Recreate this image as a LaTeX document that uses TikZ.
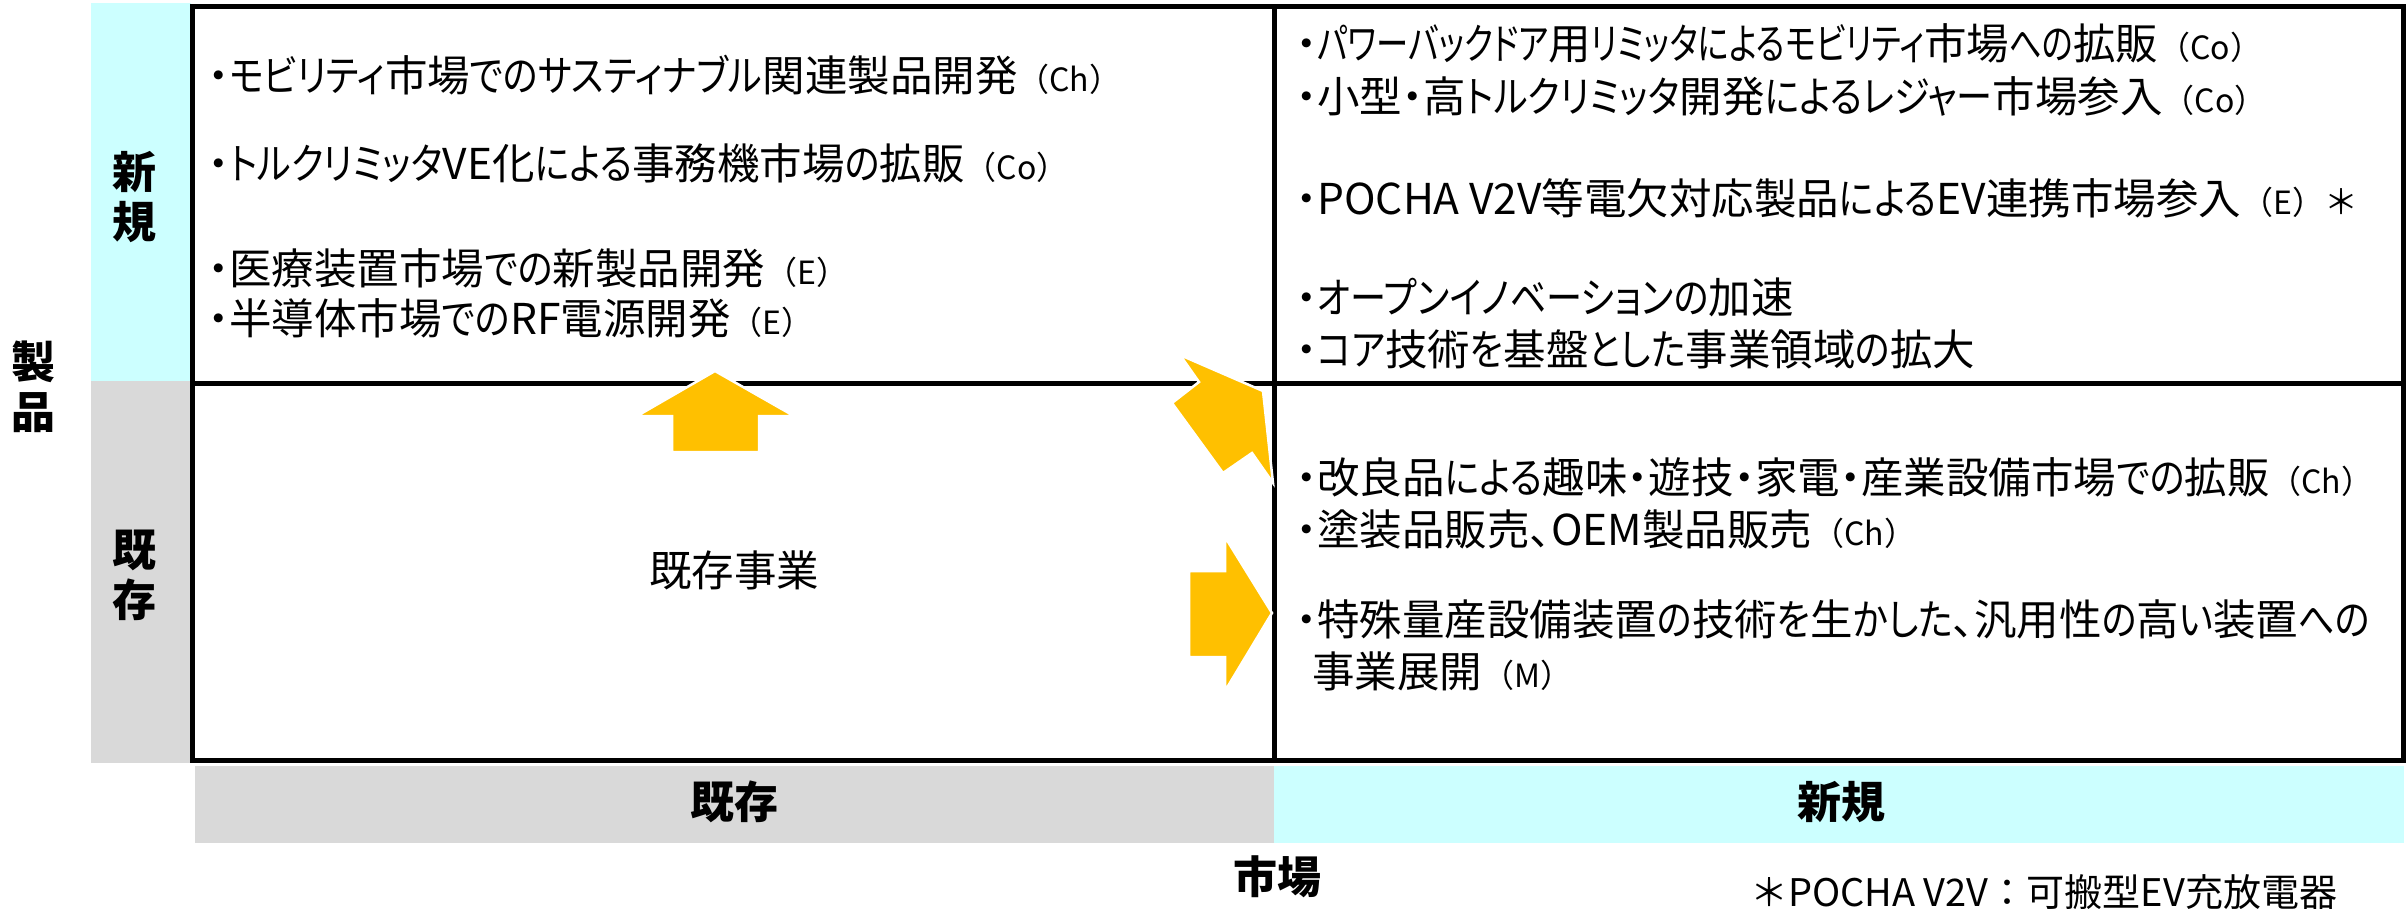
\documentclass[tikz,border=0pt]{standalone}
\usepackage{fontspec}
\newfontfamily\jp[RawFeature=+palt]{Noto Sans CJK JP}
\newfontfamily\jpk[RawFeature=+palt, FakeStretch=0.85]{Noto Sans CJK JP}
\newfontfamily\jpkk[RawFeature=+palt, FakeStretch=0.76]{Noto Sans CJK JP}
\newfontfamily\jpn{Noto Sans CJK JP}
\definecolor{cyanband}{HTML}{CCFFFF}
\definecolor{grayband}{HTML}{D9D9D9}
\definecolor{arrowc}{HTML}{FFC000}
\newcommand{\smp}[1]{{\jpn\fontsize{32}{34}\selectfont （#1）}}
\newcommand{\K}[1]{{\jpk #1}}
\newcommand{\KK}[1]{{\jpkk #1}}
\tikzset{
  txt/.style={anchor=west, inner sep=0pt, font=\jp\fontsize{42.5}{48}\selectfont},
  lbl/.style={inner sep=0pt, align=center, font=\jp\bfseries\fontsize{44}{50}\selectfont},
  blockarrow/.style={fill=arrowc, draw=white, line width=2.5pt, line join=miter},
  gridline/.style={line width=5pt}
}
\begin{document}
\begin{tikzpicture}[x=1pt,y=-1pt]
\useasboundingbox (0,0) rectangle (2407,908);
% side bands
\fill[cyanband] (91,3) rectangle (191,381);
\fill[grayband] (91,381) rectangle (191,763);
% bottom bands
\fill[grayband] (195,766) rectangle (1274,843);
\fill[cyanband] (1274,766) rectangle (2404,843);
% grid
\draw[gridline] (192,6) rectangle (2403,760);
\draw[gridline] (1274,6) -- (1274,760);
\draw[gridline] (192,383) -- (2403,383);
% arrows
\draw[blockarrow] (715,371) -- (794,416) -- (759,416) -- (759,452) -- (672,452) -- (672,416) -- (637,416) -- cycle;
\draw[blockarrow] (1272,613) -- (1225,691) -- (1225,657) -- (1189,657) -- (1189,571) -- (1225,571) -- (1225,537) -- cycle;
\draw[blockarrow] (1263,391) -- (1273,483) -- (1252,453) -- (1223,473) -- (1172,403) -- (1199,382) -- (1180,355) -- cycle;
% labels
\node[lbl] (prod) at (33,387) {製\\品};
\node[lbl] (pnew) at (134,197) {新\\規};
\node[lbl] (pold) at (134,575) {既\\存};
\node[lbl] (mold) at (734,802) {既存};
\node[lbl] (mnew) at (1841,802) {新規};
\node[lbl] (mkt) at (1277,877) {市場};
% top-left
\node[txt] (tl1) at (208,75) {・\K{モビリティ}市場\K{でのサスティナブル}関連製品開発\smp{Ch}};
\node[txt] (tl2) at (208,163) {・\K{トルクリミッタ}VE化\K{による}事務機市場\K{の}拡販\smp{Co}};
\node[txt] (tl3) at (208,268) {・医療装置市場\K{での}新製品開発\smp{E}};
\node[txt] (tl4) at (208,318) {・半導体市場\K{での}RF電源開発\smp{E}};
% top-right
\node[txt] (tr1) at (1296,43) {・\KK{パワーバックドア}用\KK{リミッタによるモビリティ}市場\KK{への}拡販\smp{Co}};
\node[txt] (tr2) at (1296,96) {・小型・高\K{トルクリミッタ}開発\K{によるレジャー}市場参入\smp{Co}};
\node[txt] (tr3) at (1296,198) {・POCHA V2V等電欠対応製品\K{による}EV連携市場参入\smp{E}{\jpn\fontsize{34}{36}\selectfont ＊}};
\node[txt] (tr4) at (1296,297) {・\K{オープンイノベーションの}加速};
\node[txt] (tr5) at (1296,349) {・\K{コア}技術\K{を}基盤\K{とした}事業領域\K{の}拡大};
% bottom-left
\node[txt, anchor=center] (exist) at (734,570) {既存事業};
% bottom-right
\node[txt] (br1) at (1296,477) {・改良品\K{による}趣味・遊技・家電・産業設備市場\K{での}拡販\smp{Ch}};
\node[txt] (br2) at (1296,529) {・塗装品販売、OEM製品販売\smp{Ch}};
\node[txt] (br3) at (1296,619) {・特殊量産設備装置\K{の}技術\K{を}生\K{かした}、汎用性\K{の}高\K{い}装置\K{への}};
\node[txt] (br4) at (1312,671) {事業展開\smp{M}};
% footnote
\node[txt, font=\jpn\fontsize{38}{42}\selectfont] (note) at (1750,892) {＊POCHA V2V：可搬型EV充放電器};
\end{tikzpicture}
\end{document}
